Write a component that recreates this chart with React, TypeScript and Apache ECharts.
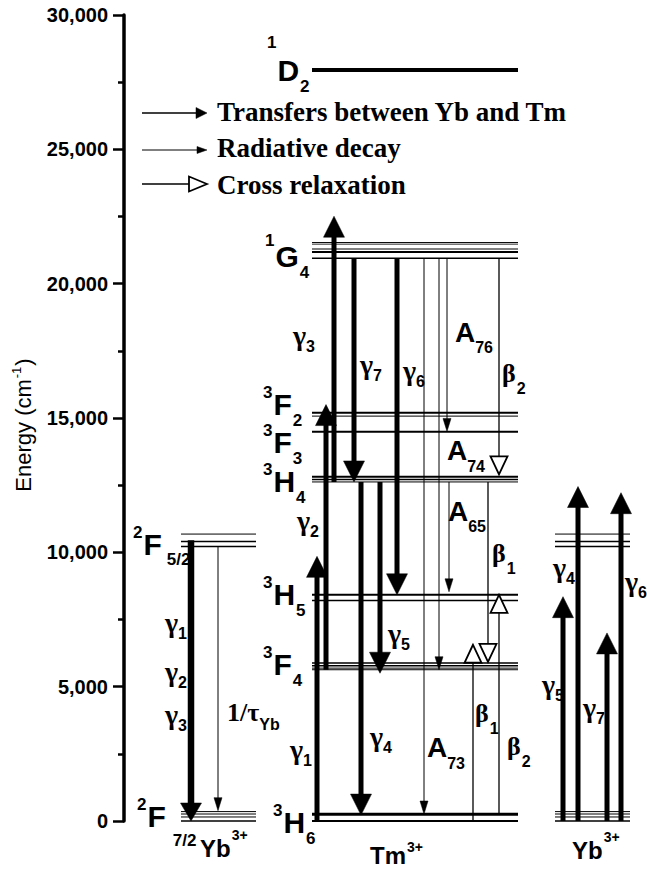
import React, { useEffect, useRef } from 'react';
import * as echarts from 'echarts';

const SANS = '"Liberation Sans", Arial, Helvetica, sans-serif';
const SERIF = '"Liberation Serif", "Times New Roman", Times, serif';
const INK = '#000';

// ---- Energy levels (cm^-1) ----
const YB_2F52 = [10680, 10400, 10220];
const YB_2F72 = [350, 260, 150, 0];
const TM_1D2 = [27950];
const TM_1G4 = [21530, 21470, 21290, 21180, 20950];
const TM_3F2 = [15200, 15070];
const TM_3F3 = [14490];
const TM_3H4 = [12810, 12710, 12620];
const TM_3H5 = [8420, 8210];
const TM_3F4 = [5880, 5780, 5690, 5630];
const TM_3H6 = [250, 0];

// ---- Transitions, [from, to] in cm^-1 ----
const YB_RELAX_TRANSFER = [[10450, 0]];
const YB_RELAX_RADIATIVE = [[10220, 385]];
const TM_TRANSFER = [
  [0, 9850], [5630, 15500], [12620, 22510],
  [20950, 12620], [12620, 220], [12620, 5500], [20950, 8420],
];
const TM_RADIATIVE = [[20950, 260], [20950, 5630], [20950, 14500], [12620, 8530]];
const TM_CROSS = [[20950, 12900], [12620, 5925], [0, 6560], [250, 8420]];
const YB_PUMP = [[0, 8350], [0, 12450], [0, 7000], [0, 12220]];

// ---- Horizontal layout (x axis runs across the page width) ----
const X_YB_LEFT = [181, 256];
const X_TM = [312, 518];
const X_YB_RIGHT = [555, 630];
const X_YB_RELAX_TRANSFER = [191];
const X_YB_RELAX_RADIATIVE = [218];
const X_TM_TRANSFER = [317, 326, 334, 354, 361, 380, 397];
const X_TM_RADIATIVE = [424, 439, 447, 449];
const X_TM_CROSS = [499, 488, 473, 499];
const X_YB_PUMP = [563, 578, 607, 621];

// line widths of the individual Stark components
const W_YB_2F52 = [1, 1.5, 1.5];
const W_YB_2F72 = [1, 1, 1, 1.6];
const W_1D2 = [4];
const W_1G4 = [1, 0.8, 1, 2, 1.5];
const W_3F2 = [2, 1];
const W_3F3 = [2];
const W_3H4 = [2, 1.5, 1];
const W_3H5 = [2, 1.5];
const W_3F4 = [1.5, 1.5, 1, 1];
const W_3H6 = [3, 2];

const levelRows: number[][] = [];
const addLevels = (span: number[], energies: number[], widths: number[]) =>
  energies.forEach((e, i) => levelRows.push([span[0], span[1], e, widths[i]]));
addLevels(X_YB_LEFT, YB_2F52, W_YB_2F52);
addLevels(X_YB_LEFT, YB_2F72, W_YB_2F72);
addLevels(X_TM, TM_1D2, W_1D2);
addLevels(X_TM, TM_1G4, W_1G4);
addLevels(X_TM, TM_3F2, W_3F2);
addLevels(X_TM, TM_3F3, W_3F3);
addLevels(X_TM, TM_3H4, W_3H4);
addLevels(X_TM, TM_3H5, W_3H5);
addLevels(X_TM, TM_3F4, W_3F4);
addLevels(X_TM, TM_3H6, W_3H6);
addLevels(X_YB_RIGHT, YB_2F52, W_YB_2F52);
addLevels(X_YB_RIGHT, YB_2F72, W_YB_2F72);

// ---- Text annotations: x position, energy of the text's middle, rich text ----
const LABELS = [
  { x: 267, e: 27950, text: '{supHi|1}{t|D}{sub|2}' },
  { x: 265, e: 21000, text: '{supG|1}{t|G}{sub|4}' },
  { x: 263, e: 15500, text: '{sup|3}{t|F}{sub|2}' },
  { x: 263, e: 14090, text: '{sup|3}{t|F}{sub|3}' },
  { x: 263, e: 12650, text: '{sup|3}{t|H}{sub|4}' },
  { x: 263, e: 8420, text: '{sup|3}{t|H}{sub|5}' },
  { x: 263, e: 5815, text: '{sup|3}{t|F}{sub|4}' },
  { x: 273, e: -40, text: '{sup|3}{t|H}{sub|6}' },
  { x: 133, e: 10290, text: '{sup|2}{t|F}{subGap|5/2}' },
  { x: 137, e: 150, text: '{sup|2}{t|F}{subLo|7/2}' },
  { x: 200, e: -1006, text: '{ion|Yb}{ionSup|3+}' },
  { x: 370, e: -1267, text: '{ion|Tm}{ionSup2|3+}' },
  { x: 572, e: -1081, text: '{ion|Yb}{ionSup|3+}' },
  { x: 165, e: 7380, text: '{g|γ}{gs|1}' },
  { x: 165, e: 5570, text: '{g|γ}{gs|2}' },
  { x: 165, e: 3950, text: '{g|γ}{gs|3}' },
  { x: 227, e: 4025, text: '{tau|1/τ}{tauSub|Yb}' },
  { x: 293, e: 18060, text: '{g|γ}{gs|3}' },
  { x: 297, e: 11180, text: '{g|γ}{gs|2}' },
  { x: 290, e: 2650, text: '{g|γ}{gs|1}' },
  { x: 360, e: 17000, text: '{g|γ}{gs|7}' },
  { x: 403, e: 16750, text: '{g|γ}{gs|6}' },
  { x: 388, e: 6970, text: '{g|γ}{gs|5}' },
  { x: 370, e: 3150, text: '{g|γ}{gs|4}' },
  { x: 542, e: 5070, text: '{g|γ}{gs|5}' },
  { x: 583, e: 4230, text: '{g|γ}{gs|7}' },
  { x: 553, e: 9430, text: '{g|γ}{gs|4}' },
  { x: 625, e: 8910, text: '{g|γ}{gs|6}' },
  { x: 455, e: 18190, text: '{A|A}{As|76}' },
  { x: 447, e: 13790, text: '{A|A}{As|74}' },
  { x: 448, e: 11520, text: '{A|A}{As|65}' },
  { x: 427, e: 2720, text: '{A|A}{As|73}' },
  { x: 502, e: 16660, text: '{b|β}{bs|2}' },
  { x: 492, e: 9950, text: '{b|β}{bs|1}' },
  { x: 475, e: 4010, text: '{b|β}{bs|1}' },
  { x: 507, e: 2780, text: '{b|β}{bs|2}' },
];

const LH = 30;
const tok = (family: string, size: number, padding?: number[]) => ({
  fontFamily: family,
  fontWeight: 'bold',
  fontSize: size,
  lineHeight: LH,
  ...(padding ? { padding } : {}),
});
const RICH: Record<string, any> = {
  t: tok(SANS, 30),
  sup: tok(SANS, 17, [0, 1, 24, 0]),
  supG: tok(SANS, 17, [0, 1, 32, 0]),
  supHi: tok(SANS, 17, [0, 1, 56, 0]),
  sub: tok(SANS, 17, [32, 0, 0, 1]),
  subGap: tok(SANS, 17, [30, 0, 0, 5]),
  subLo: tok(SANS, 17, [48, 0, 0, 7]),
  ion: tok(SANS, 24),
  ionSup: tok(SANS, 14, [0, 0, 26, 1]),
  ionSup2: tok(SANS, 14, [0, 0, 16, 1]),
  g: tok(SERIF, 28),
  gs: tok(SANS, 16, [22, 0, 0, 0]),
  A: tok(SANS, 28),
  As: tok(SANS, 16, [31, 0, 0, 0]),
  b: tok(SERIF, 26),
  bs: tok(SANS, 16, [30, 0, 0, 1]),
  tau: tok(SERIF, 26),
  tauSub: tok(SANS, 16, [24, 0, 0, 0]),
};

const ARROW: Record<string, { shaft: number; head: number; len: number; open: boolean }> = {
  transferWide: { shaft: 6.5, head: 21, len: 18, open: false },
  transfer: { shaft: 5, head: 21, len: 21, open: false },
  radiative: { shaft: 1, head: 8, len: 13, open: false },
  cross: { shaft: 1.3, head: 17, len: 18, open: true },
};

function arrowSeries(rows: number[][], xs: number[], kind: string) {
  const s = ARROW[kind];
  return {
    type: 'custom',
    name: kind,
    coordinateSystem: 'cartesian2d',
    silent: true,
    clip: false,
    z: 3,
    data: rows.map((r, i) => [xs[i], r[0], r[1]]),
    encode: { x: 0, y: [1, 2] },
    renderItem: (_params: any, api: any) => {
      const p0 = api.coord([api.value(0), api.value(1)]);
      const p1 = api.coord([api.value(0), api.value(2)]);
      const dir = p1[1] < p0[1] ? -1 : 1;
      const baseY = p1[1] - dir * s.len;
      const shaftEnd = s.open ? baseY : baseY + dir * 2;
      return {
        type: 'group',
        children: [
          {
            type: 'line',
            shape: { x1: p0[0], y1: p0[1], x2: p0[0], y2: shaftEnd },
            style: { stroke: INK, lineWidth: s.shaft },
          },
          {
            type: 'polygon',
            shape: {
              points: [
                [p1[0], p1[1]],
                [p1[0] - s.head / 2, baseY],
                [p1[0] + s.head / 2, baseY],
              ],
            },
            style: {
              fill: s.open ? '#fff' : INK,
              stroke: INK,
              lineWidth: s.open ? 1.8 : 0.5,
              lineJoin: 'miter',
            },
          },
        ],
      };
    },
  };
}

function legendArrow(y: number, shaft: number, headLen: number, headW: number, open: boolean) {
  const tip = 207;
  const base = tip - headLen;
  return [
    {
      type: 'line',
      shape: { x1: 142, y1: y, x2: open ? base : base + 1, y2: y },
      style: { stroke: INK, lineWidth: shaft },
    },
    {
      type: 'polygon',
      shape: { points: [[tip, y], [base, y - headW / 2], [base, y + headW / 2]] },
      style: { fill: open ? '#fff' : INK, stroke: INK, lineWidth: open ? 1.8 : 0.5 },
    },
  ];
}

const LEGEND_TEXTS = ['Transfers between Yb and Tm', 'Radiative decay', 'Cross relaxation'];

export default function App() {
  const ref = useRef<HTMLDivElement>(null);

  useEffect(() => {
    if (!ref.current) return;
    const chart = echarts.init(ref.current, null, { renderer: 'svg' });

    const legendGraphics: any[] = [
      ...legendArrow(113, 1.5, 11, 11, false),
      ...legendArrow(150, 1, 10, 7, false),
      ...legendArrow(184, 1.3, 18, 15, true),
      ...LEGEND_TEXTS.map((t, i) => ({
        type: 'text',
        x: 217,
        y: [112, 148, 185][i],
        style: {
          text: t,
          fill: INK,
          font: `bold 27px ${SERIF}`,
          align: 'left',
          verticalAlign: 'middle',
        },
      })),
      {
        type: 'text',
        x: 23,
        y: 425,
        rotation: Math.PI / 2,
        style: {
          text: '{a|Energy (cm}{s|-1}{a|)}',
          fill: INK,
          align: 'center',
          verticalAlign: 'middle',
          rich: {
            a: { fontFamily: SANS, fontSize: 22, lineHeight: 24 },
            s: { fontFamily: SANS, fontSize: 13, lineHeight: 24, padding: [0, 1, 14, 1] },
          },
        },
      },
    ];

    chart.setOption({
      animation: false,
      backgroundColor: '#fff',
      grid: { left: 124, right: 0, top: 15, bottom: 50 },
      xAxis: { type: 'value', min: 124, max: 647, show: false },
      yAxis: {
        type: 'value',
        min: 0,
        max: 30000,
        interval: 5000,
        axisLine: { show: true, lineStyle: { color: INK, width: 3.5 } },
        axisTick: { show: true, length: 11, lineStyle: { color: INK, width: 2.5 } },
        minorTick: { show: true, splitNumber: 2, length: 6, lineStyle: { color: INK, width: 2.5 } },
        splitLine: { show: false },
        axisLabel: {
          color: INK,
          fontFamily: SANS,
          fontWeight: 'bold',
          fontSize: 20,
          margin: 16,
          formatter: (v: number) => v.toLocaleString('en-US'),
        },
      },
      graphic: legendGraphics,
      series: [
        {
          type: 'custom',
          name: 'levels',
          coordinateSystem: 'cartesian2d',
          silent: true,
          clip: false,
          z: 2,
          data: levelRows,
          encode: { x: [0, 1], y: 2 },
          renderItem: (_params: any, api: any) => {
            const a = api.coord([api.value(0), api.value(2)]);
            const b = api.coord([api.value(1), api.value(2)]);
            return {
              type: 'line',
              shape: { x1: a[0], y1: a[1], x2: b[0], y2: b[1] },
              style: { stroke: INK, lineWidth: api.value(3) },
            };
          },
        },
        arrowSeries(YB_RELAX_TRANSFER, X_YB_RELAX_TRANSFER, 'transferWide'),
        arrowSeries(YB_RELAX_RADIATIVE, X_YB_RELAX_RADIATIVE, 'radiative'),
        arrowSeries(TM_TRANSFER, X_TM_TRANSFER, 'transfer'),
        arrowSeries(TM_RADIATIVE, X_TM_RADIATIVE, 'radiative'),
        arrowSeries(TM_CROSS, X_TM_CROSS, 'cross'),
        arrowSeries(YB_PUMP, X_YB_PUMP, 'transfer'),
        {
          type: 'custom',
          name: 'labels',
          coordinateSystem: 'cartesian2d',
          silent: true,
          clip: false,
          z: 5,
          data: LABELS.map((l) => [l.x, l.e]),
          encode: { x: 0, y: 1 },
          renderItem: (params: any, api: any) => {
            const p = api.coord([api.value(0), api.value(1)]);
            const l = LABELS[params.dataIndex];
            return {
              type: 'text',
              x: p[0],
              y: p[1],
              style: {
                text: l.text,
                rich: RICH,
                fill: INK,
                align: 'left',
                verticalAlign: 'middle',
              },
            };
          },
        },
      ],
    });

    return () => chart.dispose();
  }, []);

  return (
    <div
      ref={ref}
      style={{ position: 'fixed', left: 0, top: 0, width: 647, height: 871 }}
    />
  );
}
